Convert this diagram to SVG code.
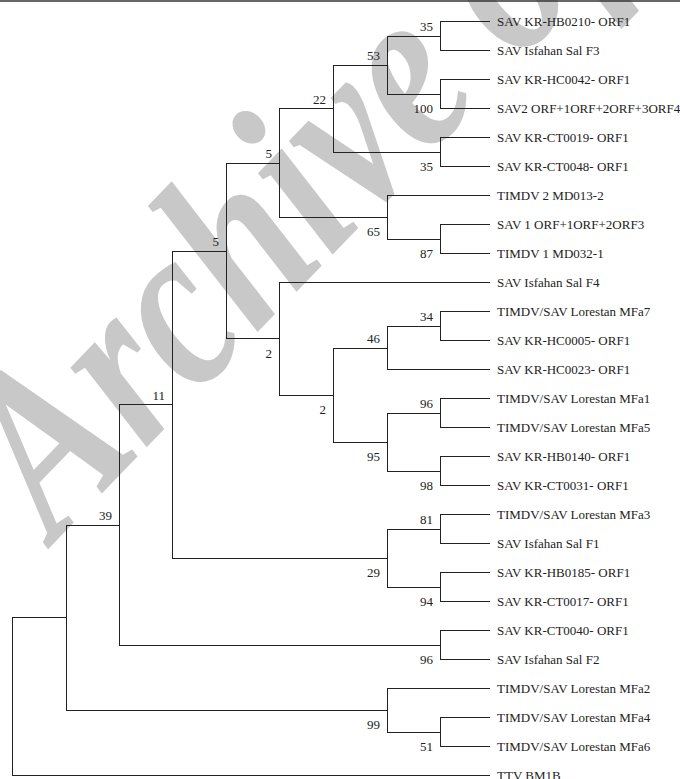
<svg xmlns="http://www.w3.org/2000/svg" width="680" height="779" viewBox="0 0 680 779">
<style>
.br{fill:none;stroke:#222;stroke-width:1}
.lf{font-family:"Liberation Serif",serif;font-size:13px;fill:#222}
.bs{font-family:"Liberation Serif",serif;font-size:13px;fill:#222;text-anchor:end}
.wm{font-family:"Liberation Serif",serif;font-style:italic;font-weight:bold;font-size:240px;fill:#c8c8c8}
</style>
<rect width="680" height="779" fill="#fff"/>
<text class="wm" transform="translate(55,542) rotate(-46) scale(0.8,1)">Archive of SID</text>
<line x1="0" y1="1" x2="680" y2="1" stroke="#333" stroke-width="1.5"/>
<g id="connectors" class="br" shape-rendering="crispEdges">
<path d="M490 21.5H440.5V50.5H490"/>
<path d="M490 79.5H440.5V108.5H490"/>
<path d="M440.5 36H387.5V94H440.5"/>
<path d="M490 137.5H440.5V166.5H490"/>
<path d="M387.5 65H333.5V152H440.5"/>
<path d="M490 224.5H440.5V253.5H490"/>
<path d="M490 195.5H387.5V239H440.5"/>
<path d="M333.5 108.5H279.5V217.5H387.5"/>
<path d="M490 311.5H440.5V340.5H490"/>
<path d="M440.5 326H387.5V369.5H490"/>
<path d="M490 398.5H440.5V427.5H490"/>
<path d="M490 456.5H440.5V485.5H490"/>
<path d="M440.5 413H387.5V471H440.5"/>
<path d="M387.5 348H333.5V442H387.5"/>
<path d="M490 282.5H279.5V395H333.5"/>
<path d="M279.5 163H226.5V338.5H279.5"/>
<path d="M490 514.5H440.5V543.5H490"/>
<path d="M490 572.5H440.5V601.5H490"/>
<path d="M440.5 529H387.5V587H440.5"/>
<path d="M226.5 251H172.5V558H387.5"/>
<path d="M490 630.5H440.5V659.5H490"/>
<path d="M172.5 404.5H119.5V645H440.5"/>
<path d="M490 717.5H440.5V746.5H490"/>
<path d="M490 688.5H387.5V732H440.5"/>
<path d="M119.5 525H66.5V710.5H387.5"/>
<path d="M66.5 617.5H12.5V775.5H490"/>
</g>
<g id="leaf1"><text class="lf" x="497" y="26">SAV KR-HB0210- ORF1</text></g>
<g id="leaf2"><text class="lf" x="497" y="55">SAV Isfahan Sal F3</text></g>
<g id="leaf3"><text class="lf" x="497" y="84">SAV KR-HC0042- ORF1</text></g>
<g id="leaf4"><text class="lf" x="497" y="113">SAV2 ORF+1ORF+2ORF+3ORF4</text></g>
<g id="leaf5"><text class="lf" x="497" y="142">SAV KR-CT0019- ORF1</text></g>
<g id="leaf6"><text class="lf" x="497" y="171">SAV KR-CT0048- ORF1</text></g>
<g id="leaf7"><text class="lf" x="497" y="200">TIMDV 2 MD013-2</text></g>
<g id="leaf8"><text class="lf" x="497" y="229">SAV 1 ORF+1ORF+2ORF3</text></g>
<g id="leaf9"><text class="lf" x="497" y="258">TIMDV 1 MD032-1</text></g>
<g id="leaf10"><text class="lf" x="497" y="287">SAV Isfahan Sal F4</text></g>
<g id="leaf11"><text class="lf" x="497" y="316">TIMDV/SAV Lorestan MFa7</text></g>
<g id="leaf12"><text class="lf" x="497" y="345">SAV KR-HC0005- ORF1</text></g>
<g id="leaf13"><text class="lf" x="497" y="374">SAV KR-HC0023- ORF1</text></g>
<g id="leaf14"><text class="lf" x="497" y="403">TIMDV/SAV Lorestan MFa1</text></g>
<g id="leaf15"><text class="lf" x="497" y="432">TIMDV/SAV Lorestan MFa5</text></g>
<g id="leaf16"><text class="lf" x="497" y="461">SAV KR-HB0140- ORF1</text></g>
<g id="leaf17"><text class="lf" x="497" y="490">SAV KR-CT0031- ORF1</text></g>
<g id="leaf18"><text class="lf" x="497" y="519">TIMDV/SAV Lorestan MFa3</text></g>
<g id="leaf19"><text class="lf" x="497" y="548">SAV Isfahan Sal F1</text></g>
<g id="leaf20"><text class="lf" x="497" y="577">SAV KR-HB0185- ORF1</text></g>
<g id="leaf21"><text class="lf" x="497" y="606">SAV KR-CT0017- ORF1</text></g>
<g id="leaf22"><text class="lf" x="497" y="635">SAV KR-CT0040- ORF1</text></g>
<g id="leaf23"><text class="lf" x="497" y="664">SAV Isfahan Sal F2</text></g>
<g id="leaf24"><text class="lf" x="497" y="693">TIMDV/SAV Lorestan MFa2</text></g>
<g id="leaf25"><text class="lf" x="497" y="722">TIMDV/SAV Lorestan MFa4</text></g>
<g id="leaf26"><text class="lf" x="497" y="751">TIMDV/SAV Lorestan MFa6</text></g>
<g id="leaf27"><text class="lf" x="497" y="780">TTV BM1B</text></g>
<g id="n35a"><text class="bs" x="433" y="31">35</text></g>
<g id="n100"><text class="bs" x="433" y="113">100</text></g>
<g id="n53"><text class="bs" x="380" y="60">53</text></g>
<g id="n35b"><text class="bs" x="433" y="171">35</text></g>
<g id="n22"><text class="bs" x="326" y="103.5">22</text></g>
<g id="n87"><text class="bs" x="433" y="258">87</text></g>
<g id="n65"><text class="bs" x="380" y="236">65</text></g>
<g id="n5a"><text class="bs" x="272" y="158">5</text></g>
<g id="n34"><text class="bs" x="433" y="321">34</text></g>
<g id="n46"><text class="bs" x="380" y="343">46</text></g>
<g id="n96a"><text class="bs" x="433" y="408">96</text></g>
<g id="n98"><text class="bs" x="433" y="490">98</text></g>
<g id="n95"><text class="bs" x="380" y="461">95</text></g>
<g id="n2b"><text class="bs" x="326" y="414">2</text></g>
<g id="n2a"><text class="bs" x="272" y="358">2</text></g>
<g id="n5b"><text class="bs" x="219" y="246">5</text></g>
<g id="n81"><text class="bs" x="433" y="524">81</text></g>
<g id="n94"><text class="bs" x="433" y="606">94</text></g>
<g id="n29"><text class="bs" x="380" y="577">29</text></g>
<g id="n11"><text class="bs" x="165" y="399.5">11</text></g>
<g id="n96b"><text class="bs" x="433" y="664">96</text></g>
<g id="n39"><text class="bs" x="112" y="520">39</text></g>
<g id="n51"><text class="bs" x="433" y="751">51</text></g>
<g id="n99"><text class="bs" x="380" y="729">99</text></g>
</svg>
